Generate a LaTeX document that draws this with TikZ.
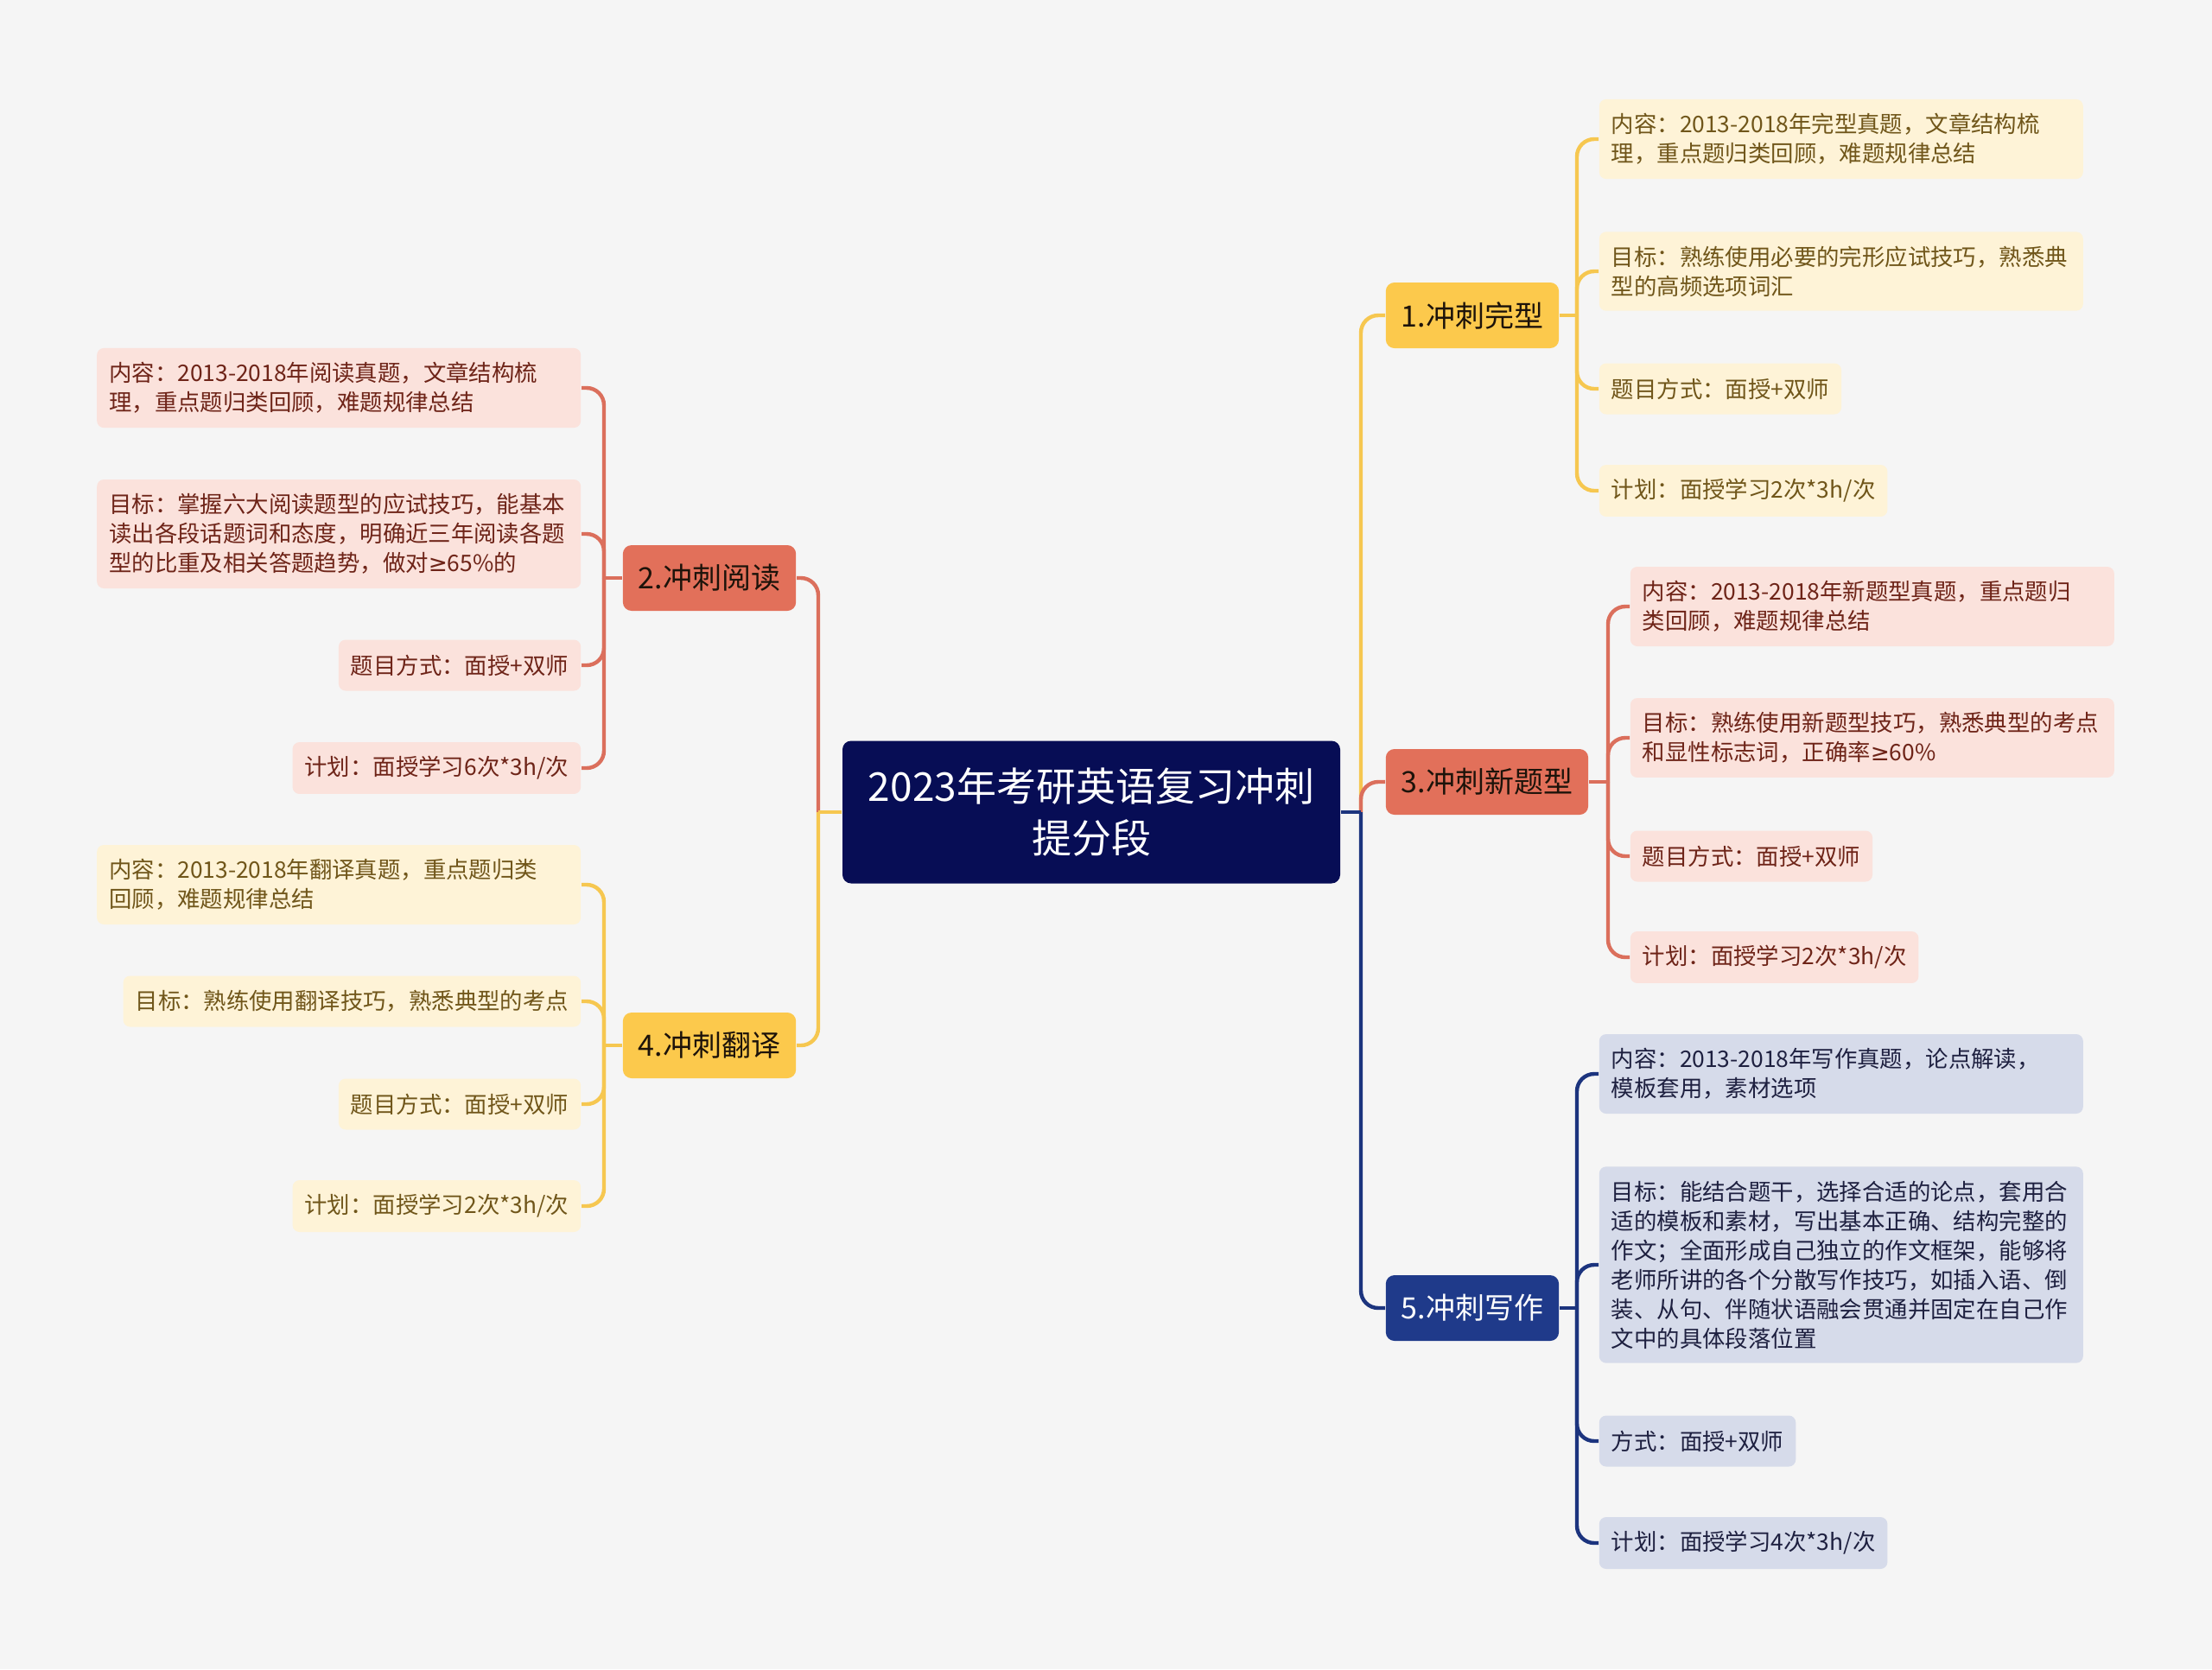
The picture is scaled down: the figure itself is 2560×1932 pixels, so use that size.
\documentclass[tikz,border=0pt]{standalone}
\usepackage{fontspec}
\setmainfont{Noto Sans CJK SC}
\newfontfamily\mathsym{DejaVu Sans}
\definecolor{bgc}{HTML}{F5F5F5}
\definecolor{rootc}{HTML}{070D55}
\definecolor{ylwtop}{HTML}{FCC94C}
\definecolor{ylwleaf}{HTML}{FEF3D7}
\definecolor{ylwtext}{HTML}{70561A}
\definecolor{ylwline}{HTML}{F6C750}
\definecolor{redtop}{HTML}{E2705A}
\definecolor{redleaf}{HTML}{FBE2DC}
\definecolor{redtext}{HTML}{6E2418}
\definecolor{redline}{HTML}{DB6F5C}
\definecolor{navtop}{HTML}{1F3A8A}
\definecolor{navleaf}{HTML}{D6DBEA}
\definecolor{navtext}{HTML}{1E2040}
\definecolor{navline}{HTML}{1C347E}

\begin{document}
\begin{tikzpicture}[x=0.25pt,y=0.25pt,yscale=-1,xscale=1,
    rootbox/.style={fill=rootc,text=white,rounded corners=2.5pt,minimum width=144pt,minimum height=41.25pt,inner sep=0pt,align=center,font=\fontsize{11.5pt}{15pt}\selectfont},
    topicbox/.style={rounded corners=2.5pt,minimum height=19pt,inner xsep=4.5pt,inner ysep=0pt,font=\fontsize{8.5pt}{10pt}\selectfont},
    leafbox/.style={rounded corners=2pt,minimum height=14.75pt,inner xsep=3.5pt,inner ysep=4.1pt,align=left,font=\fontsize{6.6pt}{8.5pt}\selectfont},
    widebox/.style={leafbox,text width=133pt},
    ylwtopic/.style={topicbox,fill=ylwtop,text=black!85!brown},
    redtopic/.style={topicbox,fill=redtop,text=black!85!brown},
    navtopic/.style={topicbox,fill=navtop,text=white},
    ylwnote/.style={fill=ylwleaf,text=ylwtext},
    rednote/.style={fill=redleaf,text=redtext},
    navnote/.style={fill=navleaf,text=navtext},
    ylwwire/.style={draw=ylwline,line width=1.1pt},
    redwire/.style={draw=redline,line width=1.1pt},
    navwire/.style={draw=navline,line width=1.1pt}]

\fill [bgc] (0,0) rectangle (2560,1932);

\node [rootbox] (root) at (1263,940) {2023年考研英语复习冲刺\\提分段};

\node [ylwtopic,anchor=west] (t1) at (1603,365) {1.冲刺完型};
\node [redtopic,anchor=east] (t2) at (922,669) {2.冲刺阅读};
\node [redtopic,anchor=west] (t3) at (1603,905) {3.冲刺新题型};
\node [ylwtopic,anchor=east] (t4) at (922,1210) {4.冲刺翻译};
\node [navtopic,anchor=west] (t5) at (1603,1514) {5.冲刺写作};

\coordinate (rbus) at (1575,0);
\coordinate (lbus) at (947,0);
\coordinate (b1) at (1825,0);
\coordinate (b2) at (699,0);
\coordinate (b3) at (1861,0);
\coordinate (b4) at (699,0);
\coordinate (b5) at (1825,0);

\node [widebox,ylwnote,anchor=west] (l1a) at (1850,161) {内容：2013-2018年完型真题，文章结构梳\\理，重点题归类回顾，难题规律总结};
\node [widebox,ylwnote,anchor=west] (l1b) at (1850,314) {目标：熟练使用必要的完形应试技巧，熟悉典\\型的高频选项词汇};
\node [leafbox,ylwnote,anchor=west] (l1c) at (1850,450) {题目方式：面授+双师};
\node [leafbox,ylwnote,anchor=west] (l1d) at (1850,568) {计划：面授学习2次*3h/次};

\node [widebox,rednote,anchor=west] (l3a) at (1886,702) {内容：2013-2018年新题型真题，重点题归\\类回顾，难题规律总结};
\node [widebox,rednote,anchor=west] (l3b) at (1886,854) {目标：熟练使用新题型技巧，熟悉典型的考点\\和显性标志词，正确率{\mathsym ≥}60\%};
\node [leafbox,rednote,anchor=west] (l3c) at (1886,991) {题目方式：面授+双师};
\node [leafbox,rednote,anchor=west] (l3d) at (1886,1108) {计划：面授学习2次*3h/次};

\node [widebox,navnote,anchor=west] (l5a) at (1850,1243) {内容：2013-2018年写作真题，论点解读，\\模板套用，素材选项};
\node [widebox,navnote,anchor=west] (l5b) at (1850,1464) {目标：能结合题干，选择合适的论点，套用合\\适的模板和素材，写出基本正确、结构完整的\\作文；全面形成自己独立的作文框架，能够将\\老师所讲的各个分散写作技巧，如插入语、倒\\装、从句、伴随状语融会贯通并固定在自己作\\文中的具体段落位置};
\node [leafbox,navnote,anchor=west] (l5c) at (1850,1668) {方式：面授+双师};
\node [leafbox,navnote,anchor=west] (l5d) at (1850,1786) {计划：面授学习4次*3h/次};

\node [widebox,rednote,anchor=east] (l2a) at (673,449) {内容：2013-2018年阅读真题，文章结构梳\\理，重点题归类回顾，难题规律总结};
\node [widebox,rednote,anchor=east] (l2b) at (673,618) {目标：掌握六大阅读题型的应试技巧，能基本\\读出各段话题词和态度，明确近三年阅读各题\\型的比重及相关答题趋势，做对{\mathsym ≥}65\%的};
\node [leafbox,rednote,anchor=east] (l2c) at (673,770) {题目方式：面授+双师};
\node [leafbox,rednote,anchor=east] (l2d) at (673,889) {计划：面授学习6次*3h/次};

\node [widebox,ylwnote,anchor=east] (l4a) at (673,1024) {内容：2013-2018年翻译真题，重点题归类\\回顾，难题规律总结};
\node [leafbox,ylwnote,anchor=east] (l4b) at (673,1159) {目标：熟练使用翻译技巧，熟悉典型的考点};
\node [leafbox,ylwnote,anchor=east] (l4c) at (673,1278) {题目方式：面授+双师};
\node [leafbox,ylwnote,anchor=east] (l4d) at (673,1396) {计划：面授学习2次*3h/次};

\draw [ylwwire] (root.east) -- (root.east -| rbus);
\draw [ylwwire,rounded corners=5pt] (root.east -| rbus) |- (t1.west);
\draw [redwire] (root.east) -- (root.east -| rbus);
\draw [redwire,rounded corners=5pt] (root.east -| rbus) |- (t3.west);
\draw [navwire] (root.east) -- (root.east -| rbus);
\draw [navwire,rounded corners=5pt] (root.east -| rbus) |- (t5.west);
\draw [redwire] (root.west) -- (root.west -| lbus);
\draw [redwire,rounded corners=5pt] (root.west -| lbus) |- (t2.east);
\draw [ylwwire] (root.west) -- (root.west -| lbus);
\draw [ylwwire,rounded corners=5pt] (root.west -| lbus) |- (t4.east);

\draw [ylwwire] (t1.east) -- (t1.east -| b1);
\foreach \k in {a,b,c,d} \draw [ylwwire,rounded corners=5pt] (t1.east -| b1) |- (l1\k.west);
\draw [redwire] (t3.east) -- (t3.east -| b3);
\foreach \k in {a,b,c,d} \draw [redwire,rounded corners=5pt] (t3.east -| b3) |- (l3\k.west);
\draw [navwire] (t5.east) -- (t5.east -| b5);
\foreach \k in {a,b,c,d} \draw [navwire,rounded corners=5pt] (t5.east -| b5) |- (l5\k.west);
\draw [redwire] (t2.west) -- (t2.west -| b2);
\foreach \k in {a,b,c,d} \draw [redwire,rounded corners=5pt] (t2.west -| b2) |- (l2\k.east);
\draw [ylwwire] (t4.west) -- (t4.west -| b4);
\foreach \k in {a,b,c,d} \draw [ylwwire,rounded corners=5pt] (t4.west -| b4) |- (l4\k.east);
\end{tikzpicture}
\end{document}
